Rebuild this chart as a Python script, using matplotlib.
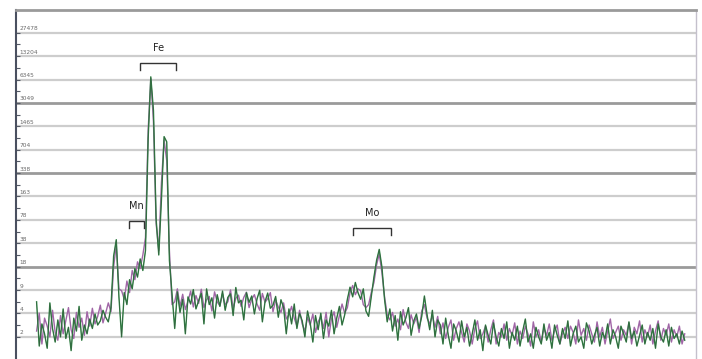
import numpy as np
import matplotlib
matplotlib.use("Agg")
import matplotlib.pyplot as plt
from matplotlib.ticker import FixedLocator, NullFormatter
import matplotlib.transforms as mtransforms

# Detector channel of the first sample and the channel step between samples
first_channel = 31
channel_step = 4

# Counts per channel, run 1 (green trace)
counts_run1 = [
    6.0, 1.5, 3.0, 2.2, 1.4, 5.8, 2.6, 1.7, 3.4, 2.0,
    4.8, 1.9, 2.7, 1.3, 3.6, 2.4, 5.2, 1.8, 2.9, 2.2,
    3.5, 2.6, 4.1, 2.9, 3.3, 4.6, 3.7, 3.2, 5.0, 25.0,
    42.0, 7.0, 2.0, 8.0, 5.5, 12.0, 9.0, 17.0, 13.0, 23.0,
    16.0, 30.0, 1000.0, 6900.0, 2400.0, 80.0, 26.0, 146.0, 1060.0, 900.0,
    22.0, 7.4, 2.6, 8.2, 4.3, 6.5, 2.2, 7.0, 5.6, 8.8,
    4.8, 6.2, 7.8, 3.0, 9.0, 5.5, 6.8, 3.6, 7.5, 5.2,
    8.4, 4.6, 6.9, 7.7, 3.9, 9.4, 5.8, 6.3, 3.4, 8.0,
    5.9, 7.2, 4.1, 6.6, 8.6, 3.2, 6.0, 7.9, 4.9, 5.4,
    7.1, 3.7, 6.4, 5.0, 2.2, 4.8, 3.0, 5.6, 2.6, 4.2,
    3.3, 2.0, 4.5, 3.1, 1.7, 3.9, 2.5, 4.2, 1.9, 3.4,
    2.8, 4.6, 2.2, 3.6, 5.2, 2.9, 4.0, 6.5, 9.5, 7.0,
    11.0, 8.0, 6.5, 9.0, 4.5, 3.8, 7.0, 13.0, 22.0, 31.0,
    18.0, 6.5, 3.2, 4.8, 2.4, 3.9, 1.8, 4.4, 2.9, 3.6,
    5.0, 2.1, 3.3, 4.1, 2.6, 3.8, 7.2, 4.0, 2.5, 4.6,
    2.0, 3.4, 2.9, 1.6, 3.6, 2.1, 1.4, 3.0, 2.4, 1.7,
    3.3, 2.0, 2.7, 1.5, 2.2, 3.4, 1.8, 2.5, 1.3, 2.9,
    2.1, 1.6, 3.1, 2.0, 1.5, 2.6, 1.9, 3.2, 1.4, 2.3,
    1.8, 2.8, 1.5, 2.4, 3.5, 1.7, 2.2, 1.4, 2.7, 2.0,
    1.6, 3.0, 1.8, 2.3, 1.4, 2.9, 2.1, 1.6, 2.6, 1.9,
    3.3, 1.5, 2.2, 2.8, 1.7, 2.0, 1.4, 3.1, 2.4, 1.6,
    2.1, 2.7, 1.5, 2.3, 1.9, 3.0, 1.6, 2.5, 2.0, 1.4,
    2.8, 2.2, 1.7, 3.2, 1.9, 2.4, 1.5, 2.1, 2.9, 1.6,
    2.3, 1.8, 2.6, 1.4, 3.0, 2.0, 1.7, 2.5, 1.5, 2.7,
    1.9, 2.2, 1.6, 2.4, 1.8,
]

# Counts per channel, run 2 (purple trace)
counts_run2 = [
    2.4, 4.2, 1.6, 3.6, 2.8, 2.0, 4.6, 2.3, 1.8, 3.9,
    2.2, 3.3, 5.0, 2.5, 1.9, 4.3, 2.7, 3.6, 2.1, 4.4,
    2.8, 4.9, 3.0, 3.8, 5.4, 3.1, 4.2, 5.8, 4.4, 18.0,
    36.0, 9.0, 8.5, 6.5, 11.5, 8.0, 16.0, 12.0, 21.0, 17.0,
    26.0, 45.0, 1300.0, 6500.0, 1700.0, 70.0, 30.0, 250.0, 950.0, 500.0,
    30.0, 5.5, 6.0, 9.0, 5.2, 7.6, 4.7, 6.1, 8.4, 5.1,
    7.3, 5.7, 8.9, 5.0, 6.4, 7.1, 4.5, 8.2, 6.0, 5.3,
    7.7, 5.5, 6.0, 8.7, 4.9, 6.7, 7.4, 5.2, 6.9, 8.1,
    5.0, 6.5, 7.5, 5.6, 4.6, 7.8, 5.9, 6.6, 8.0, 4.4,
    6.3, 5.1, 4.3, 5.8, 3.5, 4.0, 5.2, 3.6, 2.8, 4.6,
    3.0, 2.4, 3.7, 2.9, 4.1, 2.3, 3.2, 3.8, 2.6, 4.3,
    2.0, 3.5, 4.4, 2.7, 3.9, 5.6, 4.2, 5.0, 8.0, 10.0,
    7.5, 9.0, 8.5, 5.5, 5.0, 5.5, 8.0, 11.0, 19.0, 27.0,
    15.0, 7.0, 4.0, 3.4, 4.3, 2.8, 3.5, 2.5, 4.7, 3.2,
    2.6, 4.0, 3.0, 3.7, 2.3, 4.5, 5.5, 3.6, 3.0, 3.9,
    2.7, 3.8, 2.2, 3.1, 1.9, 2.7, 3.4, 1.8, 2.6, 3.2,
    2.3, 1.7, 3.0, 2.4, 1.6, 2.6, 3.3, 1.9, 2.2, 2.8,
    1.7, 2.5, 3.4, 1.6, 2.3, 2.0, 3.0, 1.8, 2.6, 2.1,
    3.1, 1.6, 2.4, 1.9, 2.8, 2.2, 1.5, 3.2, 2.0, 2.5,
    1.7, 2.6, 2.1, 3.0, 1.8, 2.4, 2.9, 1.6, 2.2, 2.7,
    1.9, 2.8, 2.3, 1.6, 3.4, 2.1, 2.6, 1.8, 2.9, 2.2,
    1.7, 3.2, 2.0, 2.7, 1.6, 2.4, 3.5, 1.9, 2.3, 2.8,
    1.8, 2.5, 2.1, 3.1, 1.6, 2.7, 2.2, 3.3, 1.7, 2.5,
    2.0, 2.9, 1.6, 2.4, 3.3, 1.8, 2.6, 2.1, 3.0, 1.7,
    2.5, 2.0, 2.8, 1.6, 2.2,
]

# Count-axis gridline values and their labels
grid_values = [2.0, 4.16, 8.66, 18.0, 37.5, 78.1, 162.5, 338.0, 704.0,
               1465.0, 3049.0, 6345.0, 13204.0, 27478.0]
grid_labels = ["2", "4", "9", "18", "38", "78", "163", "338", "704",
               "1465", "3049", "6345", "13204", "27478"]
major_grid = ["18", "338", "3049"]

# Element labels with the channel range each bracket spans
elements = ["Mn", "Fe", "Mo"]
element_ch_lo = [170, 187, 507]
element_ch_hi = [193, 241, 565]
element_bar_y = [75.6, 10660.0, 60.8]

fig = plt.figure(figsize=(7.02, 3.59), dpi=100)
ax = fig.add_axes([16 / 702, 0.0, 680 / 702, 349 / 359])
ax.set_yscale("log")
ax.set_xlim(0, 1024)
ax.set_ylim(1.0, 56000)

# Horizontal gridlines, a few drawn heavier
for val, lab in zip(grid_values, grid_labels):
    heavy = lab in major_grid
    ax.axhline(val, color="#9a9a9a" if heavy else "#cdcdcd",
               lw=2.0 if heavy else 1.6, zorder=1)

# Spectra
ch1 = first_channel + channel_step * np.arange(len(counts_run1))
ch2 = first_channel + channel_step * np.arange(len(counts_run2))
ax.plot(ch2, counts_run2, color="#a066a6", lw=1.0, zorder=3)
ax.plot(ch1, counts_run1, color="#2f8a45", lw=1.0, zorder=4)
ax.plot(ch1, counts_run1, color="#3a3a3a", lw=0.4, alpha=0.6, zorder=5)

# Count labels sitting just above each gridline
trans = mtransforms.blended_transform_factory(ax.transAxes, ax.transData)
for val, lab in zip(grid_values, grid_labels):
    ax.text(0.005, val * 1.05, lab, transform=trans, fontsize=4.2,
            color="#6a6a6a", va="bottom", ha="left", zorder=6)

# Element brackets
for name, lo, hi, yb in zip(elements, element_ch_lo, element_ch_hi, element_bar_y):
    ytick = yb * 0.79
    ax.plot([lo, lo, hi, hi], [ytick, yb, yb, ytick], color="#333333",
            lw=1.0, zorder=6, solid_joinstyle="miter")
    ax.text((lo + hi) / 2, yb * 1.35, name, fontsize=7, color="#222222",
            ha="center", va="bottom", zorder=6)

# Axis styling
ax.set_yticks(grid_values)
ax.yaxis.set_major_formatter(NullFormatter())
mids = [np.sqrt(a * b) for a, b in zip(grid_values[:-1], grid_values[1:])]
ax.yaxis.set_minor_locator(FixedLocator(mids))
ax.yaxis.set_minor_formatter(NullFormatter())
ax.tick_params(axis="y", which="both", direction="in", length=3,
               color="#555a66", width=0.8)
ax.tick_params(axis="x", which="both", bottom=False, labelbottom=False)
ax.spines["left"].set_color("#4a5060")
ax.spines["left"].set_linewidth(1.5)
ax.spines["top"].set_color("#9a9a9a")
ax.spines["top"].set_linewidth(2.0)
ax.spines["right"].set_color("#c4c0cc")
ax.spines["right"].set_linewidth(1.0)
ax.spines["bottom"].set_visible(False)

fig.savefig("out.png", dpi=100)
